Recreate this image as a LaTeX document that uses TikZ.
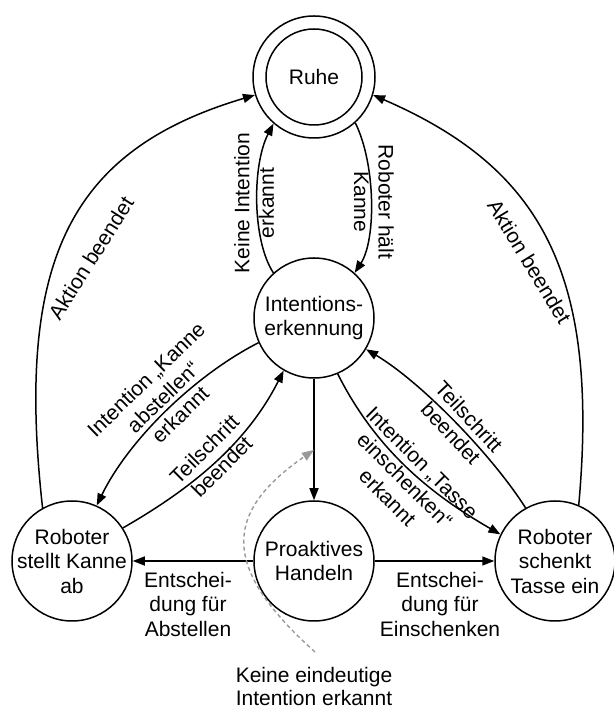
\documentclass[tikz,border=0pt]{standalone}
\usepackage{fontspec}
\setmainfont{Liberation Sans}
\usetikzlibrary{arrows.meta}
\begin{document}
\begin{tikzpicture}[x=1pt,y=1pt,
  every node/.style={font=\fontsize{21}{24.5}\selectfont},
  state/.style={circle, draw, line width=1.5pt, minimum size=120pt, inner sep=-25pt, align=center},
  flow/.style={line width=1.5pt, -{Triangle[length=12pt,width=9pt]}},
  edgetext/.style={inner sep=0pt, align=center},
  hint/.style={line width=1.4pt, draw=black!40, dash pattern=on 4pt off 3pt,
               -{Triangle[length=12pt,width=9pt,fill=black!40]}}
]
\useasboundingbox (0,0) rectangle (613,709);

% states
\node[state, minimum size=122pt] (ruhe) at (314,632) {Ruhe};
\draw[line width=1.5pt] (ruhe.center) circle[radius=48pt];
\node[state] (ie)  at (314,391) {Intentions-\\erkennung};
\node[state] (pro) at (314,148) {Proaktives\\Handeln};
\node[state] (ab)  at (72,148)  {Roboter\\stellt Kanne\\ab};
\node[state] (ein) at (555,148) {Roboter\\schenkt\\Tasse ein};

% transitions
\draw[flow] (ab.119) .. controls (15,449) and (70,559) .. (ruhe.197);
\draw[flow] (ein.67) .. controls (600,439) and (539,542) .. (ruhe.343);
\draw[flow] (ie.132) .. controls (252,469) and (252,544) .. (ruhe.229);
\draw[flow] (ruhe.312) .. controls (376,544) and (376,469) .. (ie.48);
\draw[flow] (ie.204) .. controls (195,334) and (128.5,269) .. (ab.66);
\draw[flow] (ab.33) .. controls (192.6,221) and (247,266) .. (ie.240);
\draw[flow] (ein.119) .. controls (492,254) and (421,327) .. (ie.329);
\draw[flow] (ie.293) .. controls (378.5,254) and (437.5,211) .. (ein.154);
\draw[flow] (ie) -- coordinate[pos=0.586] (hit) (pro);
\draw[flow] (pro) -- (ab);
\draw[flow] (pro) -- (ein);

% fallback: no clear intention
\coordinate (hintstart) at (315,57);
\draw[hint] (hintstart) .. controls (226,137) and (218,193) .. (hit);

% transition labels
\node[edgetext, rotate=57.6]  (l1)  at (91,451)    {Aktion beendet};
\node[edgetext, rotate=-58.6] (l2)  at (529.5,447.5) {Aktion beendet};
\node[edgetext, rotate=90]    (l3)  at (254,506)   {Keine Intention\\erkannt};
\node[edgetext, rotate=-90]   (l4)  at (374,507)   {Roboter hält\\Kanne};
\node[edgetext, rotate=44]    (l5)  at (163,312)   {Intention „Kanne\\abstellen“\\erkannt};
\node[edgetext, rotate=45]    (l6)  at (213,251)   {Teilschritt\\beendet};
\node[edgetext, rotate=-47]   (l7)  at (460,284)   {Teilschritt\\beendet};
\node[edgetext, rotate=-45]   (l8)  at (405,229)   {Intention „Tasse\\einschenken“\\erkannt};
\node[edgetext] (l9)  at (188,105) {Entschei-\\dung für\\Abstellen};
\node[edgetext] (l10) at (440,105) {Entschei-\\dung für\\Einschenken};
\node[edgetext, font=\fontsize{21}{23}\selectfont] (l11) at (314,23) {Keine eindeutige\\Intention erkannt};
\end{tikzpicture}
\end{document}
